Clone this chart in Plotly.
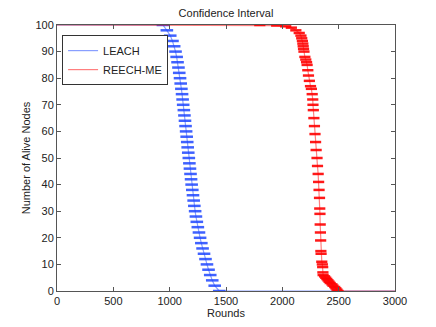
import plotly.graph_objects as go

# LEACH: average alive nodes vs rounds
leach_rounds = [940, 975, 1005, 1025, 1040, 1052, 1062, 1070, 1078, 1085, 1092, 1098, 1104,
                1110, 1115, 1120, 1126, 1131, 1136, 1141, 1146, 1151, 1156, 1160, 1165, 1170,
                1175, 1180, 1185, 1190, 1195, 1201, 1207, 1213, 1219, 1226, 1233, 1241, 1250,
                1260, 1270, 1281, 1292, 1305, 1318, 1331, 1345, 1360, 1378, 1400, 1440]
leach_alive = [100, 98, 96, 94, 92, 90, 88, 86, 84, 82, 80, 78, 76,
               74, 72, 70, 68, 66, 64, 62, 60, 58, 56, 54, 52, 50,
               48, 46, 44, 42, 40, 38, 36, 34, 32, 30, 28, 26, 24,
               22, 20, 18, 16, 14, 12, 10, 8, 6, 4, 2, 0]

# REECH-ME
reech_rounds = [1800, 1950, 2030, 2080, 2120, 2150, 2165, 2172, 2178, 2182, 2185, 2188, 2192,
                2200, 2208, 2215, 2220, 2226, 2232, 2240, 2250, 2258, 2265, 2270, 2272, 2275,
                2280, 2285, 2290, 2295, 2300, 2308, 2312, 2318, 2322, 2326, 2330, 2332, 2334,
                2336, 2338, 2340, 2342, 2344, 2350, 2355, 2358, 2360, 2362, 2375, 2385, 2395,
                2405, 2415, 2425, 2440, 2450, 2465, 2475, 2485, 2495]
reech_alive = [100, 99.8, 99.5, 99, 98, 97, 96, 95, 94, 93, 92, 91, 90,
               88, 87, 86, 85, 83, 81, 79, 77, 76, 74, 72, 70, 68,
               65, 62, 59, 56, 53, 50, 47, 44, 41, 38, 35, 31, 29,
               25, 22, 19, 15, 14, 11, 10, 9, 7, 6, 5.5, 5, 4.5,
               4, 3.5, 3, 2.5, 2, 1.5, 1, 0.5, 0]

x_start, x_end = 0, 3000

fig = go.Figure()

series = [
    ('LEACH', leach_rounds, leach_alive, 'rgba(40,80,255,0.55)', 'rgba(30,70,255,0.85)', 9),
    ('REECH-ME', reech_rounds, reech_alive, 'rgba(255,0,0,0.5)', 'rgba(255,0,0,0.9)', 8),
]
for name, rx, ry, lcol, mcol, msize in series:
    fig.add_trace(go.Scatter(x=[x_start] + rx + [x_end], y=[ry[0]] + ry + [ry[-1]],
                             mode='lines', name=name, line=dict(color=lcol, width=1.2)))
    fig.add_trace(go.Scatter(x=rx, y=ry, mode='markers', showlegend=False,
                             marker=dict(symbol='line-ew', size=msize, line=dict(color=mcol, width=2.5))))

axis_style = dict(showgrid=False, zeroline=False, showline=True, linecolor='#555', linewidth=1,
                  mirror='ticks', ticks='inside', ticklen=4, tickcolor='#555', automargin=False,
                  tickfont=dict(size=11, color='#222'))

# the page body adds an 8px offset, margins compensate for it
fig.update_layout(
    width=436, height=327,
    margin=dict(l=49, r=49, t=17, b=44),
    paper_bgcolor='white', plot_bgcolor='white',
    font=dict(family='Liberation Sans, Arial, sans-serif', size=11, color='#222'),
    title=dict(text='Confidence Interval', x=0.5, xanchor='center', y=0.984, yanchor='middle',
               font=dict(size=11), automargin=False),
    xaxis=dict(range=[0, 3000], tickvals=[0, 500, 1000, 1500, 2000, 2500, 3000],
               title=dict(text='Rounds', standoff=0, font=dict(size=11)), **axis_style),
    yaxis=dict(range=[0, 100], tickvals=list(range(0, 101, 10)),
               title=dict(text='Number of Alive Nodes', standoff=2, font=dict(size=11)), **axis_style),
    legend=dict(x=0.015, y=0.962, xanchor='left', yanchor='top', bgcolor='white',
                bordercolor='#333', borderwidth=1, font=dict(size=11), tracegroupgap=0,
                itemwidth=30),
)

fig.write_html("out.html")
